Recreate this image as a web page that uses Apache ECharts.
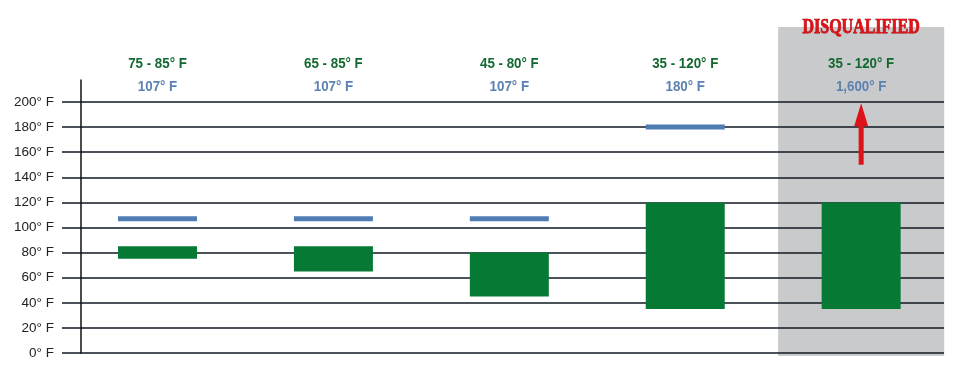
<!DOCTYPE html>
<html><head><meta charset="utf-8">
<script src="https://cdn.jsdelivr.net/npm/echarts@6/dist/echarts.min.js"></script>
<style>html,body{margin:0;padding:0;background:#fff}#c{width:959px;height:368px}</style>
</head><body><div id="c"></div>
<script>
// ---- data ----
const rangeLow = [75, 65, 45, 35, 35];
const rangeHigh = [85, 85, 80, 120, 120];
const peakTemps = [107, 107, 107, 180, 1600];
const rangeLabels = ['75 - 85° F', '65 - 85° F', '45 - 80° F', '35 - 120° F', '35 - 120° F'];
const peakLabels = ['107° F', '107° F', '107° F', '180° F', '1,600° F'];
const disqualifiedIndex = 4;
const disqualifiedLabel = 'DISQUALIFIED';
const arrowRange = [150, 199];
const yTickMax = 200;
const yTickStep = 20;

// ---- styles ----
const GREEN = '#067a34', BLUE = '#4f7db3', GREEN_TXT = '#12692f', BLUE_TXT = '#5b82b0', RED = '#de1219';
const BAR_W = 79;
const HEAD_FONT = 'bold 15.5px "Liberation Sans", Arial, sans-serif';

const chart = echarts.init(document.getElementById('c'));
const rangeData = rangeLow.map((lo, i) => [i, lo, rangeHigh[i], peakTemps[i]]);

chart.setOption({
  animation: false,
  backgroundColor: '#fff',
  grid: { left: 62, right: 15, top: 80, bottom: 15 },
  xAxis: { type: 'value', min: -0.543, max: 4.471, show: false },
  yAxis: {
    type: 'value', min: 0, max: 217.5, interval: yTickStep, offset: -19,
    axisLine: { show: true, onZero: false, lineStyle: { color: '#111', width: 1.5 } },
    axisTick: { show: false },
    axisLabel: {
      margin: 27, color: '#222', fontSize: 13.5, fontFamily: 'Liberation Sans, Arial, sans-serif',
      showMaxLabel: false,
      formatter: v => (v > yTickMax ? '' : v + '° F')
    },
    splitLine: { show: true, showMaxLine: false, lineStyle: { color: '#0f1822', width: 1.5 } }
  },
  series: [
    {
      type: 'custom', z: -1, clip: false, silent: true,
      data: [[disqualifiedIndex]],
      renderItem: (params, api) => {
        const i = api.value(0);
        const l = api.coord([i - 0.472, 0])[0];
        const r = api.coord([i + 0.472, 0])[0];
        const top = api.coord([i, 259.8])[1];
        const bot = api.coord([i, -2.4])[1];
        return { type: 'rect', shape: { x: l, y: top, width: r - l, height: bot - top }, style: { fill: '#c9cacc' } };
      }
    },
    {
      type: 'custom', z: 3, clip: false, silent: true,
      data: rangeData,
      renderItem: (params, api) => {
        const i = api.value(0);
        const pHi = api.coord([i, api.value(2)]);
        const pLo = api.coord([i, api.value(1)]);
        const peak = api.value(3);
        const topY = api.coord([i, yTickMax])[1];
        const cx = pHi[0];
        const children = [
          { type: 'rect', shape: { x: cx - BAR_W / 2, y: pHi[1], width: BAR_W, height: pLo[1] - pHi[1] }, style: { fill: GREEN } },
          { type: 'text', x: cx, y: topY - 38, scaleX: 0.86, style: { text: rangeLabels[i], fill: GREEN_TXT, font: HEAD_FONT, align: 'center', verticalAlign: 'middle' } },
          { type: 'text', x: cx, y: topY - 15, scaleX: 0.86, style: { text: peakLabels[i], fill: BLUE_TXT, font: HEAD_FONT, align: 'center', verticalAlign: 'middle' } }
        ];
        if (peak <= yTickMax) {
          const py = api.coord([i, peak])[1];
          children.push({ type: 'rect', shape: { x: cx - BAR_W / 2, y: py - 2.5, width: BAR_W, height: 5 }, style: { fill: BLUE } });
        } else {
          const tip = api.coord([i, arrowRange[1]]);
          const base = api.coord([i, arrowRange[0]]);
          const headLen = 23, headW = 14;
          children.push({ type: 'rect', shape: { x: tip[0] - 2.5, y: tip[1] + headLen - 1, width: 5, height: base[1] - tip[1] - headLen + 1 }, style: { fill: RED } });
          children.push({ type: 'polygon', shape: { points: [[tip[0], tip[1]], [tip[0] + headW / 2, tip[1] + headLen], [tip[0] - headW / 2, tip[1] + headLen]] }, style: { fill: RED } });
        }
        if (i === disqualifiedIndex) {
          children.push({ type: 'text', x: cx, y: api.coord([i, 259.8])[1] + 1, scaleY: 1.25, style: { text: disqualifiedLabel, fill: RED, font: 'bold 16px "Liberation Serif", "Times New Roman", serif', align: 'center', verticalAlign: 'middle', stroke: '#a00', lineWidth: 0.6 } });
        }
        return { type: 'group', children };
      }
    }
  ]
});
</script></body></html>
